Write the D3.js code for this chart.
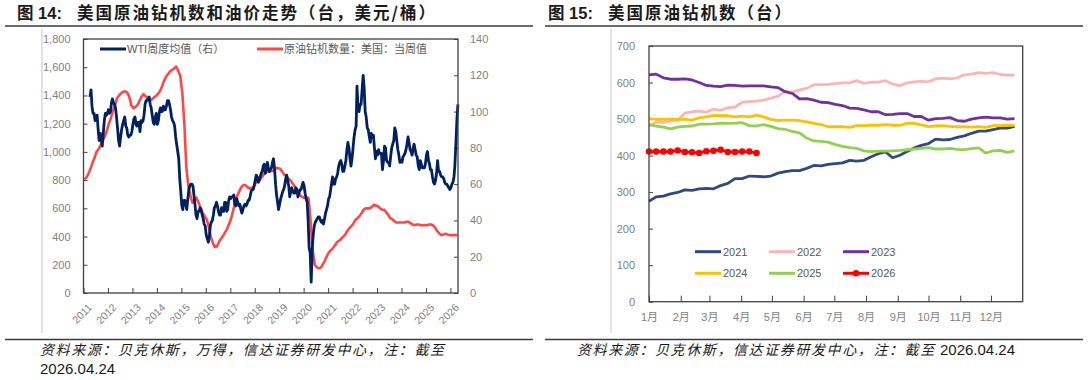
<!DOCTYPE html>
<html>
<head>
<meta charset="utf-8">
<script src="https://d3js.org/d3.v7.min.js"></script>
<style>
	body { margin: 0; background: #fff; }
	svg text { font-family: "Liberation Sans", "Noto Sans CJK SC", sans-serif; }
</style>
</head>
<body>
<svg id="chart" width="1088" height="380"></svg>
<script>
	// ---------- left chart: rigs (monthly, from 2011-01) and WTI (half-monthly, from 2011-04) ----------
	var yearLabels = ["2011","2012","2013","2014","2015","2016","2017","2018","2019","2020","2021","2022","2023","2024","2025","2026"];

	var rigMonthly = [
		805, 820, 845, 880, 920, 960, 1000, 1020, 1050, 1080, 1110, 1150,
		1200, 1240, 1290, 1330, 1380, 1400, 1415, 1425, 1430, 1420, 1390, 1330,
		1310, 1320, 1330, 1360, 1390, 1410, 1395, 1380, 1370, 1370, 1385, 1395,
		1410, 1430, 1460, 1500, 1530, 1550, 1570, 1580, 1590, 1605, 1575, 1540,
		1420, 1200, 900, 760, 690, 640, 660, 675, 640, 600, 570, 545,
		520, 470, 400, 355, 325, 330, 360, 385, 405, 430, 455, 490,
		530, 590, 640, 690, 720, 750, 765, 765, 750, 740, 745, 750,
		780, 800, 800, 820, 840, 860, 860, 860, 865, 870, 885, 885,
		880, 860, 840, 830, 810, 800, 780, 760, 730, 710, 690, 680,
		673, 679, 670, 500, 300, 200, 182, 175, 180, 205, 232, 264,
		290, 305, 318, 340, 360, 370, 385, 400, 415, 440, 460, 475,
		495, 520, 530, 545, 565, 590, 600, 600, 600, 610, 625, 620,
		615, 600, 590, 590, 575, 555, 530, 525, 510, 500, 500, 500,
		500, 500, 505, 505, 495, 485, 480, 485, 485, 480, 480, 482,
		480, 485, 485, 480, 465, 440, 425, 410, 414, 420, 415, 410,
		410, 410, 410, 410
	];

	var wtiHalfMonthly = [
		108, 112, 103, 99, 99, 95, 96, 98, 90, 84, 88, 85, 81, 88, 95, 99, 98, 99,
		101, 99, 100, 105, 107, 105, 104, 102, 97, 91, 84, 81, 86, 90, 93, 95, 97, 92, 91, 87, 86, 87, 87, 89,
		93, 96, 97, 93, 92, 94, 94, 89, 95, 94, 95, 98, 104, 106, 106, 107, 108, 104, 102, 98, 94, 93, 97, 99,
		93, 95, 100, 102, 100, 100, 103, 101, 101, 103, 106, 106, 104, 101, 97, 95, 94, 92, 86, 82, 78, 74, 63, 56,
		48, 46, 51, 51, 49, 46, 52, 57, 59, 60, 60, 59, 54, 49, 43, 41, 45, 45, 47, 46, 43, 41, 38, 37,
		32, 30, 28, 31, 37, 39, 40, 43, 47, 48, 50, 48, 45, 43, 43, 47, 45, 45, 50, 50, 45, 46, 51, 53,
		52, 53, 53, 54, 49, 48, 52, 50, 48, 49, 46, 44, 46, 48, 49, 48, 49, 51, 51, 53, 56, 57, 57, 59,
		62, 65, 64, 61, 62, 64, 66, 67, 70, 71, 66, 68, 72, 69, 67, 68, 69, 72, 74, 69, 60, 54, 50, 46,
		49, 52, 54, 56, 57, 59, 63, 65, 62, 59, 53, 56, 58, 56, 55, 55, 58, 57, 53, 55, 57, 57, 59, 61,
		59, 55, 52, 50, 40, 25, 22, 6, 24, 32, 37, 39, 40, 41, 42, 42, 40, 39, 40, 38, 41, 44, 46, 48,
		52, 53, 57, 61, 64, 60, 60, 63, 64, 66, 70, 72, 73, 71, 67, 67, 70, 73, 79, 83, 80, 74, 70, 74,
		80, 86, 90, 92, 114, 102, 100, 104, 104, 112, 120, 113, 100, 97, 91, 90, 86, 83, 88, 86, 87, 80, 74, 78,
		76, 79, 77, 77, 77, 68, 73, 81, 80, 73, 72, 72, 70, 75, 80, 82, 84, 91, 89, 84, 79, 76, 72, 73,
		72, 75, 76, 77, 79, 82, 86, 83, 79, 78, 76, 80, 82, 79, 76, 75, 70, 68, 73, 71, 69, 69, 69, 71,
		76, 78, 73, 71, 68, 68, 64, 61, 60, 62, 66, 73, 67, 67, 65, 64, 64, 63, 61, 60, 60, 59, 58, 57,
		58, 60, 61, 64, 70, 82, 96, 104
	];

	// ---------- right chart: weekly oil rigs by year ----------
	var monthLabels = ["1月","2月","3月","4月","5月","6月","7月","8月","9月","10月","11月","12月"];
	var monthStartDay = [0, 31, 59, 90, 120, 151, 181, 212, 243, 273, 304, 334];

	var rigs2021 = [275, 287, 289, 295, 299, 306, 305, 309, 310, 309, 318, 324, 337, 337, 344, 343, 342, 344, 352, 356,
		359, 359, 365, 373, 372, 376, 378, 380, 387, 385, 387, 397, 405, 410, 394, 401, 411, 421, 428, 433,
		445, 443, 444, 450, 454, 461, 467, 467, 471, 475, 475, 480];
	var rigs2022 = [480, 492, 491, 495, 497, 516, 520, 522, 519, 527, 524, 531, 533, 546, 548, 549, 552, 557, 563, 576,
		574, 580, 584, 594, 594, 595, 597, 599, 599, 605, 598, 601, 601, 605, 596, 591, 599, 602, 604, 602,
		610, 612, 610, 613, 621, 623, 627, 625, 627, 622, 620, 621];
	var rigs2023 = [621, 623, 613, 609, 609, 610, 607, 600, 592, 590, 589, 593, 592, 590, 591, 591, 591, 588, 586, 575,
		570, 555, 556, 552, 546, 545, 540, 537, 530, 529, 525, 520, 520, 512, 513, 515, 515, 507, 507, 497,
		501, 502, 504, 496, 494, 500, 503, 505, 503, 503, 500, 501];
	var rigs2024 = [501, 499, 499, 499, 499, 499, 497, 503, 506, 510, 509, 509, 506, 508, 506, 511, 506, 499, 496, 497,
		497, 496, 492, 488, 485, 479, 479, 479, 477, 482, 482, 483, 483, 485, 483, 483, 488, 488, 484, 479,
		481, 482, 480, 479, 479, 478, 479, 477, 482, 482, 483, 483];
	var rigs2025 = [485, 481, 478, 473, 478, 480, 481, 486, 486, 487, 489, 488, 489, 490, 482, 481, 485, 480, 474, 472,
		466, 462, 448, 440, 439, 437, 430, 425, 422, 420, 413, 411, 412, 412, 413, 414, 416, 418, 420, 422,
		418, 418, 420, 417, 416, 419, 421, 407, 413, 414, 409, 413];
	var rigs2026 = [411, 411, 411, 411, 414, 410, 409, 407, 412, 413, 416, 410, 410, 411, 411, 407];

	var seriesNames = ["2021", "2022", "2023", "2024", "2025", "2026"];
	var seriesValues = [rigs2021, rigs2022, rigs2023, rigs2024, rigs2025, rigs2026];
	var seriesColors = ["#2F4A7E", "#FFB4B4", "#7030A0", "#FFC000", "#92D050", "#FF0000"];

	var svg = d3.select("#chart");
	var gray = "#7f7f7f";

	function frame_lines(){
		// title underline and bottom rule for both panels
		[[5, 533], [545, 1083]].forEach(function(s){
			svg.append("line").attr("x1", s[0]).attr("x2", s[1]).attr("y1", 26).attr("y2", 26)
				.style("stroke", "#3a3a3a").style("stroke-width", 1.5);
			svg.append("line").attr("x1", s[0]).attr("x2", s[1]).attr("y1", 339.5).attr("y2", 339.5)
				.style("stroke", "#3a3a3a").style("stroke-width", 1.5);
		});
		// light separators at the left of each chart area
		[42, 611].forEach(function(x){
			svg.append("line").attr("x1", x).attr("x2", x).attr("y1", 29).attr("y2", 333)
				.style("stroke", "#c8c8c8").style("stroke-width", 1);
		});
	}

	function titles(){
		var t = [
			{x: 17, num: "图 14:", text: "美国原油钻机数和油价走势（台，美元/桶）"},
			{x: 548, num: "图 15:", text: "美国原油钻机数（台）"}
		];
		t.forEach(function(d){
			svg.append("text").attr("x", d.x).attr("y", 19).text(d.num)
				.style("font-size", "16.5px").style("font-weight", "bold").style("fill", "#1a1a1a");
			svg.append("text").attr("x", d.x + 60).attr("y", 19).text(d.text)
				.style("font-family", "'Noto Sans CJK SC'").style("font-size", "16.5px")
				.style("font-weight", "bold").style("letter-spacing", "2px").style("fill", "#1a1a1a");
		});
		// sources
		var src = [
			{x: 40, y: 355, text: "资料来源：贝克休斯，万得，信达证券研发中心，注：截至", date: ""},
			{x: 577, y: 355, text: "资料来源：贝克休斯，信达证券研发中心，注：截至", date: " 2026.04.24"}
		];
		src.forEach(function(d){
			var t = svg.append("text").attr("x", d.x).attr("y", d.y)
				.style("font-size", "14px").style("fill", "#1a1a1a");
			t.append("tspan").text(d.text)
				.style("font-family", "'Noto Sans CJK SC'").style("font-style", "italic").style("letter-spacing", "1.6px");
			if (d.date) t.append("tspan").text(d.date).style("font-size", "15px");
		});
		svg.append("text").attr("x", 40).attr("y", 374).text("2026.04.24")
			.style("font-size", "15px").style("fill", "#1a1a1a");
	}

	function style_axis(g){
		g.select(".domain").remove();
		g.selectAll(".tick line").style("stroke", "#404040");
		g.selectAll(".tick text").style("fill", gray).style("font-size", "11px")
			.style("font-family", "'Liberation Sans', sans-serif");
	}

	function left_chart(){
		var x0 = 83.5, x1 = 458, yTop = 39, yBot = 293;
		var x = d3.scaleTime().domain([new Date(2011, 0, 1), new Date(2026, 3, 24)]).range([x0, x1]);
		var yL = d3.scaleLinear().domain([0, 1800]).range([yBot, yTop]);
		var yR = d3.scaleLinear().domain([0, 140]).range([yBot, yTop]);

		var rigData = rigMonthly.map(function(v, i){ return {d: new Date(2011, i, 15), v: v}; });
		var wtiData = wtiHalfMonthly.map(function(v, i){
			return {d: new Date(2011, 3 + Math.floor(i / 2), i % 2 ? 23 : 8), v: v};
		});

		svg.append("g").attr("transform", "translate(" + x0 + ",0)")
			.call(d3.axisLeft(yL).tickValues(d3.range(0, 1801, 200)).tickSize(-4).tickPadding(13).tickFormat(d3.format(",")))
			.call(style_axis);
		svg.append("g").attr("transform", "translate(" + x1 + ",0)")
			.call(d3.axisRight(yR).tickValues(d3.range(0, 141, 20)).tickSize(-4).tickPadding(12))
			.call(style_axis);

		var years = yearLabels.map(function(y){ return new Date(+y, 0, 1); });
		svg.append("g").attr("transform", "translate(0," + yBot + ")")
			.call(d3.axisBottom(x).tickValues(years).tickSize(-5).tickFormat(""))
			.call(style_axis);
		svg.append("g").selectAll("text").data(years).enter().append("text")
			.attr("transform", function(d){ return "translate(" + (x(d) + 4) + "," + (yBot + 10) + ") rotate(-45)"; })
			.attr("text-anchor", "end").attr("dy", "0.7em")
			.style("font-size", "10.5px").style("fill", gray)
			.text(function(d, i){ return yearLabels[i]; });

		svg.append("path").datum(rigData)
			.attr("d", d3.line().x(function(d){ return x(d.d); }).y(function(d){ return yL(d.v); }))
			.style("fill", "none").style("stroke", "#FF4747").style("stroke-width", 2.6).style("stroke-linejoin", "round");
		svg.append("path").datum(wtiData)
			.attr("d", d3.line().x(function(d){ return x(d.d); }).y(function(d){ return yR(d.v); }))
			.style("fill", "none").style("stroke", "#002060").style("stroke-width", 2.8).style("stroke-linejoin", "round");

		svg.append("rect").attr("x", x0).attr("y", yTop).attr("width", x1 - x0).attr("height", yBot - yTop)
			.style("fill", "none").style("stroke", "#404040").style("stroke-width", 1.3);

		// legend
		var leg = [
			{x: 100, color: "#002060", text: "WTI周度均值（右）"},
			{x: 257, color: "#FF4747", text: "原油钻机数量：美国：当周值"}
		];
		leg.forEach(function(d){
			svg.append("line").attr("x1", d.x).attr("x2", d.x + 26).attr("y1", 49).attr("y2", 49)
				.style("stroke", d.color).style("stroke-width", 3);
			svg.append("text").attr("x", d.x + 27).attr("y", 53).text(d.text)
				.style("font-size", "11px").style("fill", "#595959");
		});
	}

	function right_chart(){
		var x0 = 649, x1 = 1022.7, yTop = 46, yBot = 301.7;
		var x = d3.scaleLinear().domain([0, 365]).range([x0, x1]);
		var y = d3.scaleLinear().domain([0, 700]).range([yBot, yTop]);

		svg.append("g").attr("transform", "translate(" + x0 + ",0)")
			.call(d3.axisLeft(y).tickValues(d3.range(0, 701, 100)).tickSize(-4).tickPadding(14))
			.call(style_axis);
		svg.append("g").attr("transform", "translate(0," + yBot + ")")
			.call(d3.axisBottom(x).tickValues(monthStartDay).tickSize(-6).tickPadding(12)
				.tickFormat(function(d, i){ return monthLabels[i]; }))
			.call(style_axis)
			.selectAll(".tick text").style("font-family", "'Liberation Sans', 'Noto Sans CJK SC', sans-serif");

		var line = d3.line().x(function(d, i){ return x(i * 7); }).y(function(d){ return y(d); });
		seriesValues.forEach(function(vals, k){
			svg.append("path").datum(vals).attr("d", line)
				.style("fill", "none").style("stroke", seriesColors[k]).style("stroke-width", 2.8)
				.style("stroke-linejoin", "round");
		});
		svg.append("g").selectAll("circle").data(rigs2026).enter().append("circle")
			.attr("cx", function(d, i){ return x(i * 7); }).attr("cy", function(d){ return y(d); })
			.attr("r", 3.3).style("fill", "#FF0000");

		svg.append("rect").attr("x", x0).attr("y", yTop).attr("width", x1 - x0).attr("height", yBot - yTop)
			.style("fill", "none").style("stroke", "#404040").style("stroke-width", 1.3);

		// legend, two rows of three
		var colX = [695, 769, 843], rowY = [251.7, 273.3];
		seriesNames.forEach(function(name, k){
			var lx = colX[k % 3], ly = rowY[Math.floor(k / 3)];
			svg.append("line").attr("x1", lx).attr("x2", lx + 26).attr("y1", ly).attr("y2", ly)
				.style("stroke", seriesColors[k]).style("stroke-width", 3);
			if (name == "2026") {
				svg.append("circle").attr("cx", lx + 13).attr("cy", ly).attr("r", 3.3).style("fill", seriesColors[k]);
			}
			svg.append("text").attr("x", lx + 28).attr("y", ly + 4).text(name)
				.style("font-size", "11px").style("fill", "#595959");
		});
	}

	frame_lines();
	titles();
	left_chart();
	right_chart();
</script>
</body>
</html>
